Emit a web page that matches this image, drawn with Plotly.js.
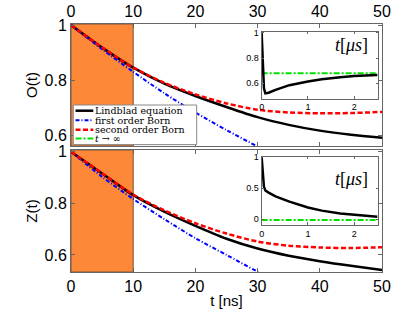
<!DOCTYPE html>
<html><head><meta charset="utf-8">
<script src="https://cdn.plot.ly/plotly-3.0.1.min.js"></script>
<style>html,body{margin:0;padding:0;background:#fff}#chart{width:407px;height:315px}</style>
</head><body><div id="chart"></div>
<script>
// ---- data ----
const tNs = [0, 5, 10, 15, 20, 25, 30, 35, 40, 45, 50];
const oLindblad   = [1, 0.918, 0.845, 0.787, 0.742, 0.702, 0.665, 0.637, 0.616, 0.601, 0.590];
const oFirstBorn  = [1, 0.912, 0.830, 0.752, 0.682, 0.618, 0.558, 0.500];
const oSecondBorn = [1, 0.919, 0.846, 0.790, 0.748, 0.715, 0.692, 0.682, 0.679, 0.680, 0.684];
const zLindblad   = [1, 0.916, 0.832, 0.768, 0.713, 0.663, 0.625, 0.597, 0.576, 0.558, 0.542];
const zFirstBorn  = [1, 0.903, 0.817, 0.739, 0.665, 0.600, 0.535, 0.470];
const zSecondBorn = [1, 0.917, 0.834, 0.773, 0.723, 0.683, 0.652, 0.636, 0.629, 0.627, 0.630];
const tUs    = [0, 0.02, 0.05, 0.08, 0.15, 0.3, 0.6, 1.0, 1.3, 1.7, 2.0, 2.5];
const oInset = [1, 0.75, 0.56, 0.52, 0.525, 0.548, 0.585, 0.615, 0.632, 0.648, 0.657, 0.665];
const zInset = [1, 0.72, 0.52, 0.465, 0.43, 0.37, 0.285, 0.19, 0.14, 0.095, 0.07, 0.04];
const tInf = [0, 2.5];
const oInf = [0.68, 0.68];
const zInf = [-0.012, -0.012];
const shadedRange = [0, 10];
const seriesNames = ['Lindblad equation', 'first order Born', 'second order Born', '<i>t</i> \u2192 \u221e'];
const mainTicks = [0, 10, 20, 30, 40, 50];
const yMainTicks = [0.6, 0.8, 1];
const insetXTicks = [0, 1, 2];
const oInsetTicks = [0.6, 0.8, 1];
const zInsetTicks = [0, 0.5, 1];

// ---- styles ----
const styles = [
  {color: '#000000', width: 2.5, dash: 'solid'},
  {color: '#0000ff', width: 2, dash: '4px,2px,1px,2px'},
  {color: '#ff0000', width: 2.5, dash: '5px,2.5px'},
  {color: '#00e000', width: 2, dash: '6px,2px,2px,2px'}
];
function line(s) { return {color: s.color, width: s.width, dash: s.dash, shape: 'spline', smoothing: 0.8}; }

const traces = [
  {x: tNs, y: oLindblad, xaxis: 'x', yaxis: 'y', name: seriesNames[0], line: line(styles[0])},
  {x: tNs.slice(0, oFirstBorn.length), y: oFirstBorn, xaxis: 'x', yaxis: 'y', name: seriesNames[1], line: line(styles[1])},
  {x: tNs, y: oSecondBorn, xaxis: 'x', yaxis: 'y', name: seriesNames[2], line: line(styles[2])},
  {x: tNs, y: zLindblad, xaxis: 'x2', yaxis: 'y2', name: seriesNames[0], line: line(styles[0])},
  {x: tNs.slice(0, zFirstBorn.length), y: zFirstBorn, xaxis: 'x2', yaxis: 'y2', name: seriesNames[1], line: line(styles[1])},
  {x: tNs, y: zSecondBorn, xaxis: 'x2', yaxis: 'y2', name: seriesNames[2], line: line(styles[2])},
  {x: tInf, y: oInf, xaxis: 'x3', yaxis: 'y3', name: seriesNames[3], line: {color: styles[3].color, width: styles[3].width, dash: styles[3].dash}},
  {x: tUs, y: oInset, xaxis: 'x3', yaxis: 'y3', name: seriesNames[0], line: {color: '#000', width: 2.5}},
  {x: tInf, y: zInf, xaxis: 'x4', yaxis: 'y4', name: seriesNames[3], line: {color: styles[3].color, width: styles[3].width, dash: styles[3].dash}},
  {x: tUs, y: zInset, xaxis: 'x4', yaxis: 'y4', name: seriesNames[0], line: {color: '#000', width: 2.5}}
].map(t => Object.assign({type: 'scatter', mode: 'lines', showlegend: false, hoverinfo: 'skip'}, t));

const FRAME = '#666';
const mainFont = {family: 'Liberation Sans, Arial, sans-serif', size: 16, color: '#000'};
const insetFont = {family: 'Liberation Sans, Arial, sans-serif', size: 9, color: '#000'};
function axis(extra) {
  return Object.assign({showline: true, linecolor: FRAME, linewidth: 1, mirror: 'ticks', ticks: 'inside',
    ticklen: 4, tickcolor: FRAME, showgrid: false, zeroline: false, tickfont: mainFont, fixedrange: true}, extra);
}
function insetAxis(extra) {
  return axis(Object.assign({ticklen: 2.5, tickfont: insetFont}, extra));
}

// custom compact legend (paper coordinates)
const W = 311, H = 248, L = 71, T = 24;
const px = v => (v - L) / W, py = v => (T + H - v) / H;
const legendRows = [110.7, 120.3, 129.8, 138.6];
const shapes = [
  {type: 'rect', xref: 'x', yref: 'y domain', x0: shadedRange[0], x1: shadedRange[1], y0: 0, y1: 1,
   fillcolor: '#fd8838', line: {color: '#7a5436', width: 1}, layer: 'below'},
  {type: 'rect', xref: 'x2', yref: 'y2 domain', x0: shadedRange[0], x1: shadedRange[1], y0: 0, y1: 1,
   fillcolor: '#fd8838', line: {color: '#7a5436', width: 1}, layer: 'below'},
  {type: 'rect', xref: 'paper', yref: 'paper', x0: px(73.3), x1: px(196.7), y0: py(144.6), y1: py(105),
   fillcolor: '#fff', line: {color: '#888', width: 1}, layer: 'above'}
];
const annotations = [];
seriesNames.forEach((n, i) => {
  const s = styles[i];
  shapes.push({type: 'line', xref: 'paper', yref: 'paper', x0: px(75.5), x1: px(93.3), y0: py(legendRows[i]), y1: py(legendRows[i]),
    line: {color: s.color, width: s.width, dash: s.dash}, layer: 'above'});
  annotations.push({xref: 'paper', yref: 'paper', x: px(94.3), y: py(legendRows[i]), xanchor: 'left', yanchor: 'middle',
    text: n, showarrow: false, borderpad: 0, font: {family: 'DejaVu Serif, serif', size: 9.5, color: '#000'}});
});
['y3', 'y4'].forEach((ax, i) => {
  annotations.push({xref: 'paper', yref: 'paper', x: px(351), y: py(i === 0 ? 45 : 178.5), xanchor: 'center', yanchor: 'middle',
    text: '<i>t</i>[<i>\u03bcs</i>]', showarrow: false, font: {family: 'Liberation Serif, serif', size: 18, color: '#000'}});
});

const layout = {
  width: 407, height: 315,
  margin: {l: L, r: 407 - L - W, t: T, b: 315 - T - H, pad: 0},
  paper_bgcolor: '#fff', plot_bgcolor: '#fff', showlegend: false,
  xaxis: axis({anchor: 'y', side: 'top', range: [0, 50], tickvals: mainTicks, domain: [0, 1]}),
  yaxis: axis({anchor: 'x', domain: [0.508, 1], range: [0.56, 1.004], tickvals: yMainTicks,
    title: {text: 'O(t)', font: {family: mainFont.family, size: 15, color: '#000'}, standoff: 3}}),
  xaxis2: axis({anchor: 'y2', side: 'bottom', range: [0, 50], tickvals: mainTicks, domain: [0, 1],
    title: {text: 't [ns]', font: {family: mainFont.family, size: 15, color: '#000'}, standoff: 1}}),
  yaxis2: axis({anchor: 'x2', domain: [0, 0.492], range: [0.534, 1.007], tickvals: yMainTicks,
    title: {text: 'Z(t)', font: {family: mainFont.family, size: 15, color: '#000'}, standoff: 3}}),
  xaxis3: insetAxis({anchor: 'y3', domain: [0.613, 0.988], range: [0, 2.52], tickvals: insetXTicks}),
  yaxis3: insetAxis({anchor: 'x3', domain: [0.699, 0.969], range: [0.478, 1.01], tickvals: oInsetTicks}),
  xaxis4: insetAxis({anchor: 'y4', domain: [0.613, 0.988], range: [0, 2.52], tickvals: insetXTicks}),
  yaxis4: insetAxis({anchor: 'x4', domain: [0.19, 0.465], range: [-0.09, 1.01], tickvals: zInsetTicks}),
  shapes: shapes,
  annotations: annotations
};
Plotly.newPlot('chart', traces, layout, {staticPlot: true, displayModeBar: false});
</script></body></html>
